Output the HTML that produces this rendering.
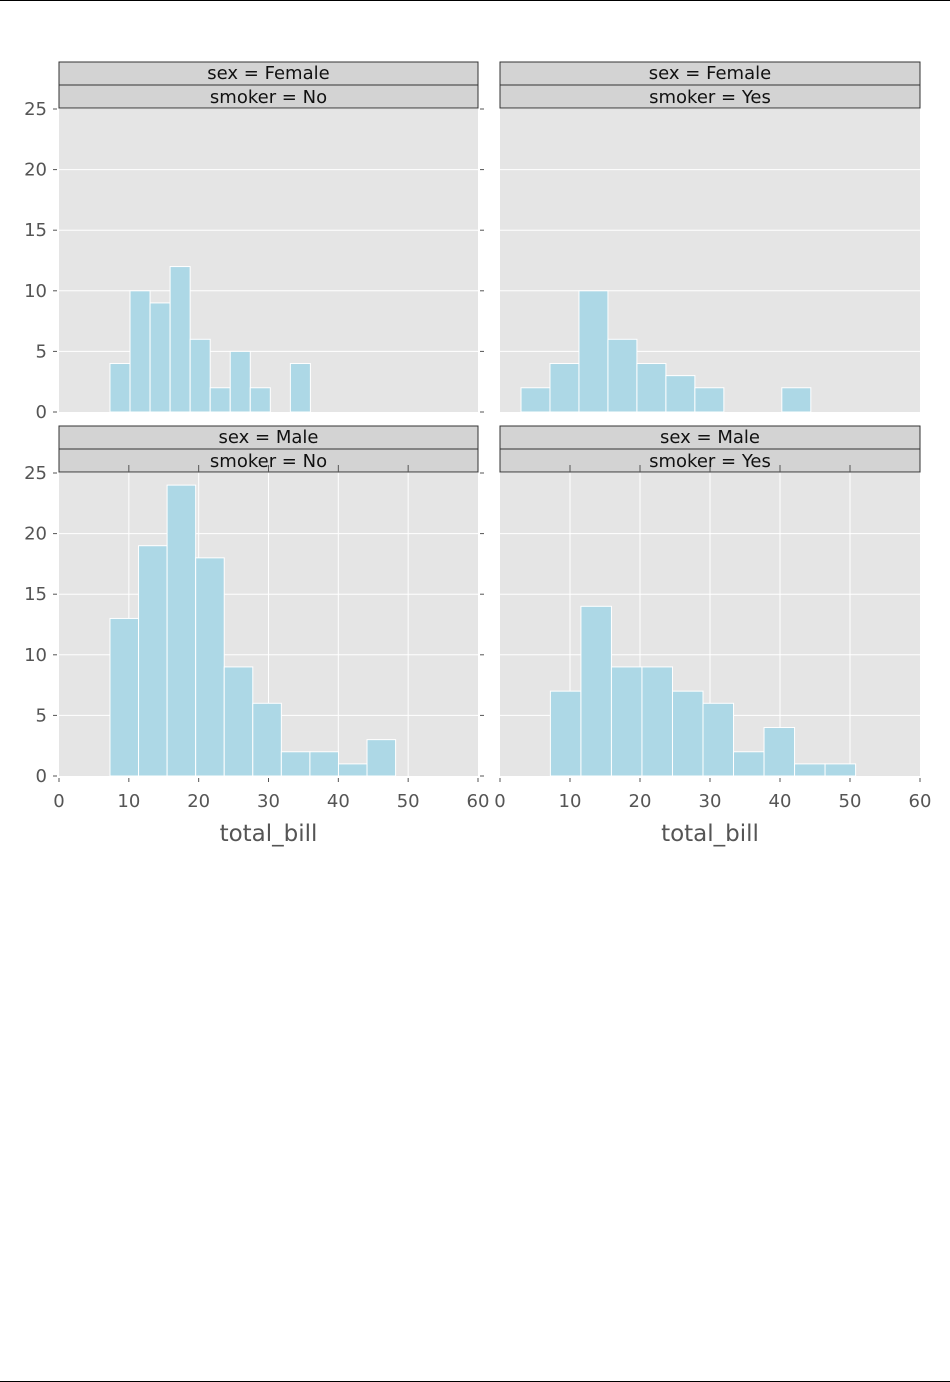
<!DOCTYPE html>
<html><head><meta charset="utf-8"><style>
html,body{margin:0;padding:0;background:#fff;}
svg{display:block;font-family:"DejaVu Sans","Liberation Sans",sans-serif;}
</style></head><body>
<svg id="chart" width="950" height="1382" viewBox="0 0 950 1382">
<line x1="0" y1="0.5" x2="950" y2="0.5" stroke="#000"/>
<line x1="0" y1="1381.5" x2="950" y2="1381.5" stroke="#000"/>
</svg>
<script>
const xTicks = [0,10,20,30,40,50,60];
const yTicks = [0,5,10,15,20,25];
const stripSex = ["Female","Female","Male","Male"];
const stripSmoker = ["No","Yes","No","Yes"];
const binStartFN = 7.3, binWidthFN = 2.87;
const countsFN = [4,10,9,12,6,2,5,2,0,4];
const binStartFY = 3.0, binWidthFY = 4.14;
const countsFY = [2,4,10,6,4,3,2,0,0,2];
const binStartMN = 7.3, binWidthMN = 4.09;
const countsMN = [13,19,24,18,9,6,2,2,1,3];
const binStartMY = 7.2, binWidthMY = 4.36;
const countsMY = [7,14,9,9,7,6,2,4,1,1];

const NS = "http://www.w3.org/2000/svg";
const svg = document.getElementById('chart');
function mk(tag, attrs, parent){ const e=document.createElementNS(NS,tag); for(const k in attrs) e.setAttribute(k,attrs[k]); (parent||svg).appendChild(e); return e; }

const panels = [
 {x0:59,x1:478,y0:109,y1:412,starts:binStartFN,w:binWidthFN,counts:countsFN,vgrid:false,ylab:true,xlab:false},
 {x0:500,x1:920,y0:109,y1:412,starts:binStartFY,w:binWidthFY,counts:countsFY,vgrid:false,ylab:false,xlab:false},
 {x0:59,x1:478,y0:473,y1:776,starts:binStartMN,w:binWidthMN,counts:countsMN,vgrid:true,ylab:true,xlab:true},
 {x0:500,x1:920,y0:473,y1:776,starts:binStartMY,w:binWidthMY,counts:countsMY,vgrid:true,ylab:false,xlab:true},
];
panels.forEach((p,i)=>{
  const g = mk('g',{});
  
  
  const xs = v => p.x0 + (v-0)/(60-0)*(p.x1-p.x0);
  const ys = v => p.y1 - v/25*(p.y1-p.y0);
  const bg = mk('rect',{x:p.x0,y:p.y0,width:p.x1-p.x0,height:p.y1-p.y0,fill:'#e5e5e5'},g);
  
  
  yTicks.forEach(t=>{
    if(t>0&&t<25){ const l=mk('line',{x1:p.x0,x2:p.x1,y1:ys(t),y2:ys(t),stroke:'#fff','stroke-width':1},g);
        }
    if(p.ylab){
      mk('line',{x1:p.x0-6,x2:p.x0-2,y1:ys(t),y2:ys(t),stroke:'#555'},g);
      mk('line',{x1:p.x1+2,x2:p.x1+6,y1:ys(t),y2:ys(t),stroke:'#555'},g);
      const tx=mk('text',{x:p.x0-12,y:ys(t)+6,'text-anchor':'end','font-size':18,fill:'#555'},g); tx.textContent=t;
        }
  });
  xTicks.forEach(t=>{
    if(p.vgrid && t>0 && t<60){ const l=mk('line',{x1:xs(t),x2:xs(t),y1:p.y0-10,y2:p.y1,stroke:'#fff'},g);
        }
    if(p.xlab){ mk('line',{x1:xs(t),x2:xs(t),y1:p.y1+2,y2:p.y1+6,stroke:'#555'},g);
      const tx=mk('text',{x:xs(t),y:p.y1+31,'text-anchor':'middle','font-size':18,fill:'#555'},g); tx.textContent=t;
        }
  });
  p.counts.forEach((c,j)=>{
    if(c<=0) return;
    const a=xs(p.starts+j*p.w), b=xs(p.starts+(j+1)*p.w);
    const r=mk('rect',{x:a,y:ys(c),width:b-a,height:ys(0)-ys(c),fill:'#add8e6',stroke:'#fff','stroke-width':1},g);
    
    
  });
  const s1=mk('rect',{x:p.x0,y:p.y0-47,width:p.x1-p.x0,height:23,fill:'#d3d3d3',stroke:'#333','stroke-width':1},g);
   
  const s2=mk('rect',{x:p.x0,y:p.y0-24,width:p.x1-p.x0,height:23,fill:'#d3d3d3',stroke:'#333','stroke-width':1},g);
   
  if(p.vgrid){ xTicks.forEach(t=>{ if(t>0&&t<60) mk('line',{x1:xs(t),x2:xs(t),y1:p.y0-8,y2:p.y0-1,stroke:'#555'},g); }); }
  const t1=mk('text',{x:(p.x0+p.x1)/2,y:p.y0-30,'text-anchor':'middle','font-size':18,fill:'#111'},g);
  t1.textContent='sex = '+stripSex[i];
   
  const t2=mk('text',{x:(p.x0+p.x1)/2,y:p.y0-6,'text-anchor':'middle','font-size':18,fill:'#111'},g);
  t2.textContent='smoker = '+stripSmoker[i];
   
  if(p.xlab){ const at=mk('text',{x:(p.x0+p.x1)/2,y:p.y1+65,'text-anchor':'middle','font-size':23,fill:'#555'},g);
    at.textContent='total_bill';
      }
});
</script>
</body></html>
